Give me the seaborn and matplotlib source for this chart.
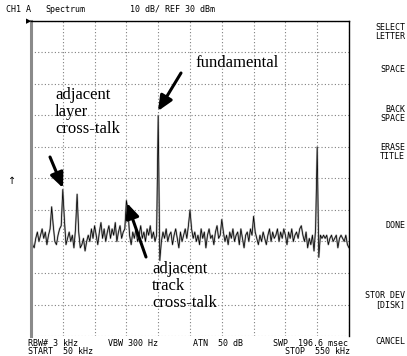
import numpy as np
import pandas as pd
import matplotlib
matplotlib.use("Agg")
import matplotlib.pyplot as plt
import seaborn as sns

# ---- data ----
start_khz = 50.0
stop_khz = 550.0
ref_dbm = 30.0
db_per_div = 10.0

# trace levels (dBm), one per 2.5 kHz sweep point from 50 to 550 kHz
level_dbm = [
    -38, -41, -42, -39,  -37, -40, -38, -36,  -39, -37, -41, -38,
    -36, -29, -35, -40,  -41, -38, -36, -35,  -23.5, -33, -41, -39,
    -37, -40, -38, -42,  -36, -25, -37, -42,  -41, -39, -43, -40,
    -38, -40, -36, -39,  -35, -38, -41, -37,  -34, -39, -36, -40,
    -37, -35, -39, -36,  -38, -34, -40, -37,  -35, -39, -37, -36,
    -27, -30, -38, -41,  -37, -39, -36, -40,  -38, -35, -39, -37,
    -40, -36, -38, -35,  -39, -37, -40, -38,  0, -46, -40, -37,
    -39, -36, -40, -38,  -37, -41, -38, -36,  -39, -42, -37, -40,
    -38, -36, -39, -35,  -30, -36, -39, -37,  -40, -38, -41, -36,
    -39, -37, -42, -38,  -36, -39, -38, -41,  -37, -35, -39, -38,
    -33, -37, -40, -38,  -41, -37, -39, -36,  -40, -38, -37, -41,
    -36, -39, -42, -38,  -37, -40, -36, -38,  -32, -37, -39, -41,
    -38, -40, -37, -39,  -41, -38, -36, -40,  -37, -39, -38, -36,
    -40, -37, -39, -36,  -38, -41, -37, -39,  -36, -40, -38, -37,
    -39, -36, -35, -38,  -40, -37, -42, -39,  -41, -38, -43, -36,
    -10, -45, -38, -39,  -38, -39, -38, -41,  -39, -38, -40, -39,
    -38, -42, -39, -38,  -39, -40, -38, -41,  -42,
]
freq_khz = np.linspace(start_khz, stop_khz, len(level_dbm))

header_left = ["CH1 A", "Spectrum"]
header_mid = "10 dB/ REF 30 dBm"
footer_row1 = ["RBW# 3 kHz", "VBW 300 Hz", "ATN  50 dB", "SWP  196.6 msec"]
footer_row2 = ["START  50 kHz", "STOP  550 kHz"]
softkeys = ["SELECT\nLETTER", "SPACE", "BACK\nSPACE", "ERASE\nTITLE",
            "DONE", "STOR DEV\n[DISK]", "CANCEL"]
note_fund = "fundamental"
note_layer = "adjacent\nlayer\ncross-talk"
note_track = "adjacent\ntrack\ncross-talk"

# ---- figure ----
W, H = 407, 356
sns.set_style("white")
fig = plt.figure(figsize=(W / 100, H / 100), dpi=100)
ax = fig.add_axes([31 / W, 1 - 336 / H, 318 / W, 315 / H])

df = pd.DataFrame({"freq": freq_khz, "level": level_dbm})
sns.lineplot(data=df, x="freq", y="level", ax=ax, color="#b4b4b4", lw=1.4)
sns.lineplot(data=df, x="freq", y="level", ax=ax, color="black", lw=0.55)

ax.set_xlim(start_khz, stop_khz)
ax.set_ylim(ref_dbm - 10 * db_per_div, ref_dbm)
ax.set_xticks(np.arange(start_khz, stop_khz + 1, 50))
ax.set_yticks(np.arange(ref_dbm - 10 * db_per_div, ref_dbm + 1, db_per_div))
ax.grid(True, color="#808080", ls=(0, (1, 2)), lw=0.8)
ax.tick_params(length=0, labelbottom=False, labelleft=False)
ax.set_xlabel("")
ax.set_ylabel("")
for s in ["top", "right"]:
    ax.spines[s].set_color("black")
    ax.spines[s].set_linewidth(1.0)
ax.spines["left"].set_color("#8a8a8a")
ax.spines["left"].set_linewidth(2.2)
ax.spines["bottom"].set_visible(False)

mono = dict(family="DejaVu Sans Mono", fontsize=6, color="black")


def ftext(x, y, s, **kw):
    return fig.text(x / W, 1 - y / H, s, **kw)


# header
ftext(6, 9, header_left[0], va="center", ha="left", **mono)
ftext(45, 9, header_left[1], va="center", ha="left", **mono)
ftext(130, 9, header_mid, va="center", ha="left", **mono)
ftext(31, 21, "\u25b6", va="center", ha="right", family="DejaVu Sans",
      fontsize=5, color="black")
ftext(12, 181, "\u2191", va="center", ha="center", family="DejaVu Sans",
      fontsize=7, color="black")

# footer
for x, s in zip([28, 108, 193, 273], footer_row1):
    ftext(x, 343, s, va="center", ha="left", **mono)
ftext(28, 351, footer_row2[0], va="center", ha="left", **mono)
ftext(350, 351, footer_row2[1], va="center", ha="right", **mono)

# soft keys
for y, s in zip([32, 70, 114, 152, 225, 300, 341], softkeys):
    ftext(405, y, s, va="center", ha="right", linespacing=0.95, **mono)

# annotations
serif = dict(family="Liberation Serif", fontsize=12, color="black")
ftext(195, 63, note_fund, va="center", ha="left", **serif)
ftext(55, 112, note_layer, va="center", ha="left", linespacing=1.08, **serif)
ftext(152, 286, note_track, va="center", ha="left", linespacing=1.08, **serif)

arrow = dict(arrowstyle="-|>,head_length=0.9,head_width=0.4", color="black",
             lw=2.2, shrinkA=0, shrinkB=0)
for (tx, ty), (hx, hy) in [((181, 73), (158, 111)),
                           ((50, 157), (63, 188)),
                           ((146, 257), (127, 203))]:
    ax.annotate("", xy=(hx, H - hy), xycoords="figure pixels",
                xytext=(tx, H - ty), textcoords="figure pixels",
                arrowprops=arrow)

fig.savefig("out.png", dpi=100)
